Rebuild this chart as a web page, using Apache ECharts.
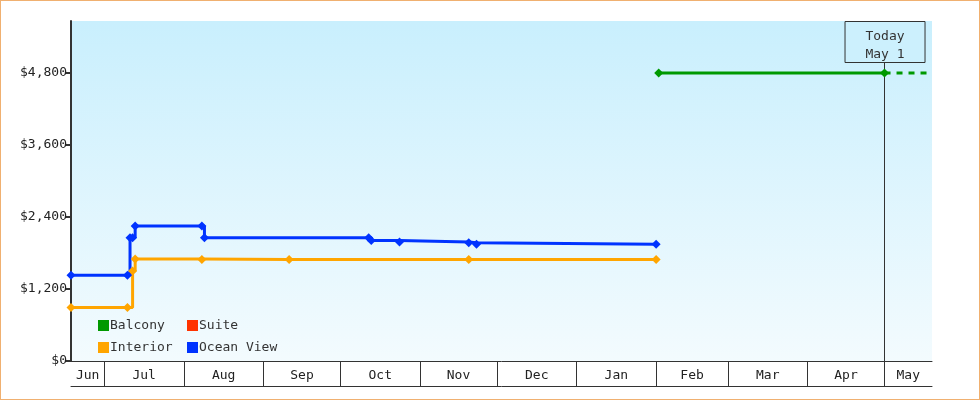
<!DOCTYPE html>
<html><head><meta charset="utf-8">
<script src="https://cdn.jsdelivr.net/npm/echarts@6/dist/echarts.min.js"></script>
<style>html,body{margin:0;padding:0;background:#fff}#c{width:978px;height:398px;border:1px solid #f0b070}</style>
</head><body><div id="c"></div>
<script>
const balcony = [['2025-02-02',4800],['2025-05-01',4800]];
const balconyFuture = [['2025-05-01',4800],['2025-05-19',4800]];
const suite = [];
const interior = [['2024-06-18',890],['2024-07-10',890],['2024-07-12',1500],['2024-07-13',1700],['2024-08-08',1690],['2024-09-11',1690],['2024-11-20',1690],['2025-02-01',1690]];
const oceanView = [['2024-06-18',1430],['2024-07-10',1430],['2024-07-11',2055],['2024-07-12',2055],['2024-07-13',2250],['2024-08-08',2250],['2024-08-09',2055],['2024-10-12',2055],['2024-10-13',2010],['2024-10-24',1985],['2024-11-20',1970],['2024-11-23',1945],['2025-02-01',1945]];
const monthStarts = ['2024-07-01','2024-08-01','2024-09-01','2024-10-01','2024-11-01','2024-12-01','2025-01-01','2025-02-01','2025-03-01','2025-04-01','2025-05-01'];
const monthNames = ['Jun','Jul','Aug','Sep','Oct','Nov','Dec','Jan','Feb','Mar','Apr','May'];
const xStart = '2024-06-18', xEnd = '2025-05-19T12:00', today = '2025-05-01';
const yTicks = [0,1200,2400,3600,4800];

const t = s => { const [d,h] = s.split('T'); const p = d.split('-').map(Number); return Date.UTC(p[0],p[1]-1,p[2], h?Number(h.split(':')[0]):0); };
const conv = a => a.map(([d,v]) => [t(d), v]);
const minX = t(xStart), maxX = t(xEnd);
const bounds = [minX, ...monthStarts.map(t), maxX];
const mids = [], midName = {};
for (let i=0;i<bounds.length-1;i++){ const m=(bounds[i]+bounds[i+1])/2; mids.push(m); midName[m]=monthNames[i]; }
const font = 'DejaVu Sans Mono';
const ch = echarts.init(document.getElementById('c'));
const sym = {symbol:'diamond', symbolSize:9, lineStyle:{width:3}, step:'end', showSymbol:true};
ch.setOption({
  animation:false,
  textStyle:{fontFamily:font},
  grid:{left:70, right:47, top:20, bottom:38, show:true, borderWidth:0,
    backgroundColor:{type:'linear',x:0,y:0,x2:0,y2:1,colorStops:[{offset:0,color:'#c9effd'},{offset:1,color:'#f3fbfe'}]}},
  legend:[
    {data:['Balcony','Interior'], orient:'vertical', left:92, top:313, itemWidth:11, itemHeight:11, itemGap:9, icon:'rect', textStyle:{fontFamily:font, fontSize:13, color:'#333', padding:[0,0,0,-4]}},
    {data:['Suite','Ocean View'], orient:'vertical', left:181, top:313, itemWidth:11, itemHeight:11, itemGap:9, icon:'rect', textStyle:{fontFamily:font, fontSize:13, color:'#333', padding:[0,0,0,-4]}}
  ],
  xAxis:[
    {type:'value', min:minX, max:maxX, splitLine:{show:false},
     axisLine:{lineStyle:{color:'#333', width:1}},
     axisTick:{show:true, customValues:monthStarts.map(t), length:25, lineStyle:{color:'#333'}},
     axisLabel:{customValues:mids, formatter:v=>midName[v]||'', color:'#222', fontFamily:font, fontSize:13, margin:8}},
    {type:'value', min:minX, max:maxX, position:'bottom', offset:25, splitLine:{show:false},
     axisLine:{lineStyle:{color:'#333', width:1}}, axisTick:{show:false}, axisLabel:{show:false}}
  ],
  yAxis:{type:'value', min:0, max:5667, splitLine:{show:false},
    axisLine:{show:true, lineStyle:{color:'#333', width:2}},
    axisTick:{show:true, customValues:yTicks, length:6, lineStyle:{color:'#333', width:2}},
    axisLabel:{customValues:yTicks, formatter:v=>'$'+v.toLocaleString('en-US'), color:'#222', fontFamily:font, fontSize:13, margin:4}},
  series:[
    Object.assign({name:'Balcony', type:'line', data:conv(balcony), color:'#009900', z:5,
      markLine:{silent:true, symbol:'none', label:{show:false}, lineStyle:{color:'#333', width:1, type:'solid'}, data:[[{coord:[t(today),0]},{coord:[t(today),4980]}]]}}, sym),
    {name:'Balcony', type:'line', data:conv(balconyFuture), color:'#009900', showSymbol:false, lineStyle:{width:3, type:[6,6]}},
    Object.assign({name:'Suite', type:'line', data:conv(suite), color:'#ff3300'}, sym),
    Object.assign({name:'Interior', type:'line', data:conv(interior), color:'#ffa500'}, sym),
    Object.assign({name:'Ocean View', type:'line', data:conv(oceanView), color:'#0033ff'}, sym)
  ]
});
const px = ch.convertToPixel({xAxisIndex:0}, t(today));
ch.setOption({graphic:[{type:'group', left:px-40, top:20, children:[
  {type:'rect', shape:{x:0,y:0,width:80,height:41}, style:{fill:'#ccf0fd', stroke:'#333', lineWidth:1}},
  {type:'text', x:40, y:6, style:{text:'Today\nMay 1', align:'center', fill:'#333', font:'13px "DejaVu Sans Mono"', lineHeight:18}}
]}]});
</script></body></html>
